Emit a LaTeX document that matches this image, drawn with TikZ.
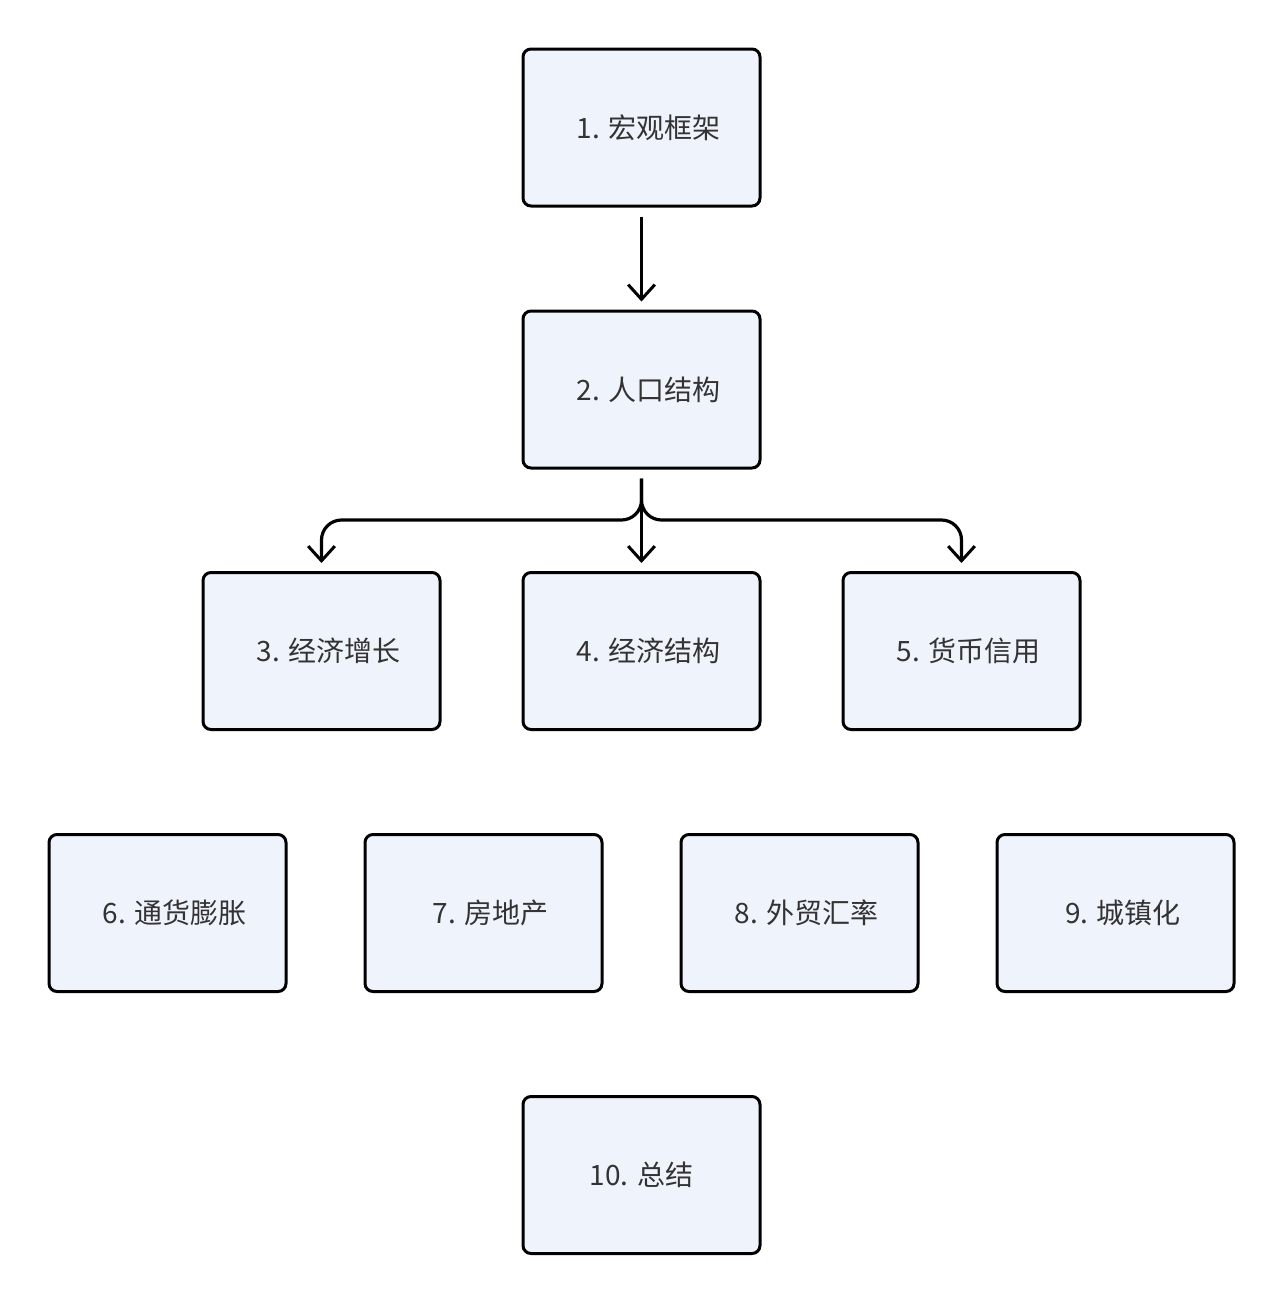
\documentclass[tikz,border=0pt]{standalone}
\usepackage{fontspec}
\setmainfont{Noto Sans CJK SC}
\usetikzlibrary{arrows.meta}
\definecolor{cajafondo}{HTML}{EFF3FC}
\definecolor{texto}{HTML}{333333}
\begin{document}
\begin{tikzpicture}[
    x=0.75pt, y=-0.75pt,
    font=\fontsize{21pt}{25pt}\selectfont,
    >={Straight Barb[length=11pt,width=20pt,line width=2.25pt]},
    caja/.style={
        draw,
        line width=2.25pt,
        rounded corners=6pt,
        minimum width=177.75pt,
        minimum height=117.75pt,
        inner sep=0pt,
        align=center,
        fill=cajafondo,
        text=texto,
        execute at begin node={\hspace*{#1}}
    },
    caja/.default=11pt,
    flecha/.style={
        ->,
        line width=2.4pt,
        shorten <=6.75pt,
        shorten >=6pt,
        rounded corners=15pt
    }
]
    \useasboundingbox (0,0) rectangle (1284,1304);

    \node[caja] (marco) at (641.5,127.5) {1. 宏观框架};
    \node[caja] (poblacion) at (641.5,389.5) {2. 人口结构};

    \node[caja] (crecimiento) at (321.5,651) {3. 经济增长};
    \node[caja] (estructura) at (641.5,651) {4. 经济结构};
    \node[caja] (credito) at (961.5,651) {5. 货币信用};

    \node[caja] (inflacion) at (167.5,913) {6. 通货膨胀};
    \node[caja] (inmueble) at (483.5,913) {7. 房地产};
    \node[caja] (comercio) at (799.5,913) {8. 外贸汇率};
    \node[caja] (urbano) at (1115.5,913) {9. 城镇化};

    \node[caja=0pt] (resumen) at (641.5,1175) {10. 总结};

    \coordinate (bifurca) at (641.5,520);

    \draw[flecha] (marco.south) -- (poblacion.north);
    \draw[flecha] (poblacion.south) -- (bifurca) -| (crecimiento.north);
    \draw[flecha] (poblacion.south) -- (estructura.north);
    \draw[flecha] (poblacion.south) -- (bifurca) -| (credito.north);
\end{tikzpicture}
\end{document}
